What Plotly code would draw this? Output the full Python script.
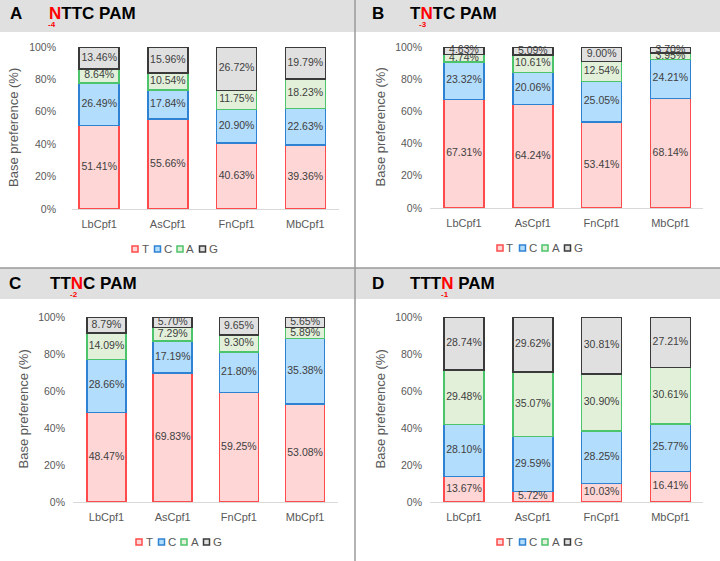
import plotly.graph_objects as go

W, H = 720, 561

categories = ["LbCpf1", "AsCpf1", "FnCpf1", "MbCpf1"]
bases = ["T", "C", "A", "G"]

# Panel A: NTTC PAM (position -4)
a_T = [51.41, 55.66, 40.63, 39.36]
a_C = [26.49, 17.84, 20.90, 22.63]
a_A = [8.64, 10.54, 11.75, 18.23]
a_G = [13.46, 15.96, 26.72, 19.79]

# Panel B: TNTC PAM (position -3)
b_T = [67.31, 64.24, 53.41, 68.14]
b_C = [23.32, 20.06, 25.05, 24.21]
b_A = [4.74, 10.61, 12.54, 3.95]
b_G = [4.63, 5.09, 9.00, 3.70]

# Panel C: TTNC PAM (position -2)
c_T = [48.47, 69.83, 59.25, 53.08]
c_C = [28.66, 17.19, 21.80, 35.38]
c_A = [14.09, 7.29, 9.30, 5.89]
c_G = [8.79, 5.70, 9.65, 5.65]

# Panel D: TTTN PAM (position -1)
d_T = [13.67, 5.72, 10.03, 16.41]
d_C = [28.10, 29.59, 28.25, 25.77]
d_A = [29.48, 35.07, 30.90, 30.61]
d_G = [28.74, 29.62, 30.81, 27.21]

yticks = [0, 20, 40, 60, 80, 100]
yticklabels = ["0%", "20%", "40%", "60%", "80%", "100%"]
ytitle = "Base preference (%)"

fills = {"T": "#FFD6D6", "C": "#B2DDFD", "A": "#E2F0D9", "G": "#E0E0E0"}
lines = {"T": "#FF4B4B", "C": "#2F82D2", "A": "#4CC46B", "G": "#3A3A3A"}

FONT = "Liberation Sans, Arial, sans-serif"

def px(x):
    return x / W

def py(y):
    return 1 - y / H

panels = [
    dict(letter="A", pre="", post="TTC PAM", sub="-4", data=[a_T, a_C, a_A, a_G],
         x0=72, x1=339, c0=99.2, step=68.7, bw=40, y0=209, y100=47, stand=15,
         lx=8, tx=47, ty=14, subx=52, suby=25, ytx=14, legx=132, legy=249),
    dict(letter="B", pre="T", post="TC PAM", sub="-3", data=[b_T, b_C, b_A, b_G],
         x0=430, x1=703, c0=464, step=68.8, bw=40, y0=208, y100=47, stand=7,
         lx=370, tx=408, ty=14, subx=423, suby=25, ytx=380, legx=497, legy=248),
    dict(letter="C", pre="TT", post="C PAM", sub="-2", data=[c_T, c_C, c_A, c_G],
         x0=73, x1=338, c0=106.5, step=66.2, bw=39, y0=502, y100=317, stand=7,
         lx=7, tx=48, ty=283, subx=73.5, suby=294.5, ytx=23, legx=136, legy=542),
    dict(letter="D", pre="TTT", post=" PAM", sub="-1", data=[d_T, d_C, d_A, d_G],
         x0=430, x1=703, c0=464, step=68.8, bw=40, y0=502, y100=317, stand=7,
         lx=370, tx=408, ty=283, subx=444.5, suby=294.5, ytx=380, legx=497, legy=542),
]

fig = go.Figure()
layout = dict(
    template="none",
    width=W, height=H, autosize=False,
    margin=dict(l=0, r=0, t=0, b=0, pad=0),
    paper_bgcolor="white", plot_bgcolor="white",
    barmode="stack", showlegend=False,
    font=dict(family=FONT, color="#595959"),
)
shapes = []
annotations = []

shapes.append(dict(type="rect", xref="paper", yref="paper", x0=0, x1=1, y0=py(32), y1=py(0),
                   fillcolor="#E0E0E0", line=dict(width=0), layer="below"))
shapes.append(dict(type="rect", xref="paper", yref="paper", x0=0, x1=1, y0=py(299), y1=py(268),
                   fillcolor="#E0E0E0", line=dict(width=0), layer="below"))
shapes.append(dict(type="line", xref="paper", yref="paper", x0=px(355), x1=px(355), y0=0, y1=1,
                   line=dict(color="#9A9A9A", width=1.5)))
shapes.append(dict(type="line", xref="paper", yref="paper", x0=0, x1=1, y0=py(268), y1=py(268),
                   line=dict(color="#9A9A9A", width=1.5)))

for i, p in enumerate(panels):
    n = "" if i == 0 else str(i + 1)
    xa, ya = "x" + n, "y" + n
    lo = (p["x0"] - p["c0"]) / p["step"]
    hi = (p["x1"] - p["c0"]) / p["step"]
    layout["xaxis" + n] = dict(
        domain=[px(p["x0"]), px(p["x1"])], anchor=ya, range=[lo, hi], automargin=False,
        type="category", showline=True, linecolor="#D9D9D9", linewidth=1,
        showgrid=False, zeroline=False, ticks="", ticklabelstandoff=5,
        tickfont=dict(size=11, color="#595959", family=FONT), fixedrange=True,
    )
    layout["yaxis" + n] = dict(
        domain=[py(p["y0"]), py(p["y100"])], anchor=xa, range=[0, 100], automargin=False,
        tickvals=yticks, ticktext=yticklabels, showline=False, showgrid=False,
        zeroline=False, ticks="", ticklabelstandoff=p["stand"],
        tickfont=dict(size=10.5, color="#595959", family=FONT), fixedrange=True,
    )
    wid = p["bw"] / p["step"]
    base_acc = [0.0] * len(categories)
    for b, vals in zip(bases, p["data"]):
        fig.add_trace(go.Bar(
            x=categories, y=vals, name=b, xaxis=xa, yaxis=ya, width=wid,
            marker=dict(color=fills[b], line=dict(color=lines[b], width=1.5)),
            textposition="none", hoverinfo="skip",
        ))
        mids = [acc + v / 2 for acc, v in zip(base_acc, vals)]
        base_acc = [acc + v for acc, v in zip(base_acc, vals)]
        fig.add_trace(go.Scatter(
            x=categories, y=mids, xaxis=xa, yaxis=ya, mode="text",
            text=[f"{v:.2f}%" for v in vals], textposition="middle center",
            textfont=dict(size=10.5, color="#404040", family=FONT),
            cliponaxis=False, hoverinfo="skip", showlegend=False,
        ))
    annotations.append(dict(xref="paper", yref="paper", x=px(p["lx"]), y=py(p["ty"]),
                            xanchor="left", yanchor="middle", showarrow=False,
                            text="<b>" + p["letter"] + "</b>",
                            font=dict(size=17, color="black", family=FONT)))
    annotations.append(dict(xref="paper", yref="paper", x=px(p["tx"]), y=py(p["ty"]),
                            xanchor="left", yanchor="middle", showarrow=False,
                            text="<b>" + p["pre"] + "<span style='color:#FF0000'>N</span>" + p["post"] + "</b>",
                            font=dict(size=17, color="black", family=FONT)))
    annotations.append(dict(xref="paper", yref="paper", x=px(p["subx"]), y=py(p["suby"]),
                            xanchor="center", yanchor="middle", showarrow=False,
                            text="<b>" + p["sub"] + "</b>", borderpad=0,
                            font=dict(size=8, color="#FF0000", family=FONT)))
    annotations.append(dict(xref="paper", yref="paper", x=px(p["ytx"]),
                            y=py((p["y0"] + p["y100"]) / 2),
                            xanchor="center", yanchor="middle", showarrow=False,
                            textangle=-90, text=ytitle,
                            font=dict(size=13, color="#595959", family=FONT)))
    for k, b in enumerate(bases):
        sx = p["legx"] + k * 22.5
        shapes.append(dict(type="rect", xref="paper", yref="paper",
                           x0=px(sx), x1=px(sx + 6), y0=py(p["legy"] + 3), y1=py(p["legy"] - 3),
                           fillcolor=fills[b], line=dict(color=lines[b], width=1.5)))
        annotations.append(dict(xref="paper", yref="paper", x=px(sx + 7.5), y=py(p["legy"]),
                                xanchor="left", yanchor="middle", showarrow=False,
                                text=b, font=dict(size=11.5, color="#595959", family=FONT)))

layout["shapes"] = shapes
layout["annotations"] = annotations
fig.update_layout(**layout)
fig.write_html(
    "out.html",
    config={"displayModeBar": False},
    post_script="document.body.style.margin='0';document.body.style.overflow='hidden';",
)
